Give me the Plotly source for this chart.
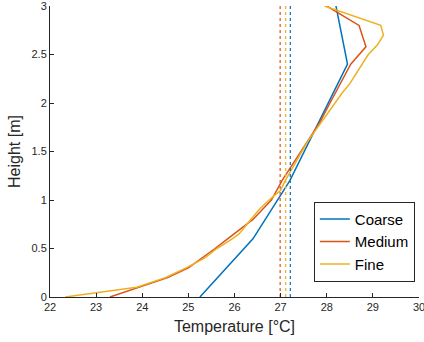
import plotly.graph_objects as go

# Data
coarse_h = [0.0, 0.6, 1.2, 1.8, 2.4, 3.0]
coarse_t = [25.25, 26.4, 27.2, 27.83, 28.45, 28.2]

medium_h = [0.0, 0.1, 0.2, 0.3, 0.4, 0.5, 0.6, 0.7, 0.8, 0.9, 1.0, 1.2, 1.4, 1.6, 1.8, 2.0, 2.2, 2.4, 2.58, 2.8, 3.0]
medium_t = [23.3, 23.95, 24.55, 25.0, 25.3, 25.58, 25.85, 26.12, 26.4, 26.6, 26.8, 27.03, 27.3, 27.58, 27.85, 28.07, 28.3, 28.52, 28.85, 28.7, 28.0]

fine_h = [0.0, 0.1, 0.2, 0.3, 0.4, 0.5, 0.6, 0.65, 0.75, 0.8, 0.9, 1.0, 1.1, 1.2, 1.3, 1.4, 1.5, 1.6, 1.7, 1.8, 1.9, 2.0, 2.1, 2.2, 2.3, 2.4, 2.5, 2.6, 2.7, 2.8, 3.0]
fine_t = [22.33, 23.88, 24.5, 24.95, 25.35, 25.62, 25.95, 26.1, 26.27, 26.35, 26.53, 26.75, 27.0, 27.1, 27.22, 27.33, 27.45, 27.58, 27.73, 27.88, 28.03, 28.18, 28.33, 28.5, 28.63, 28.76, 28.9, 29.1, 29.23, 29.17, 27.95]

series_names = ["Coarse", "Medium", "Fine"]
series_colors = ["#0072BD", "#D95319", "#EDB120"]
mean_temps = [27.21, 26.99, 27.11]
height_range = [0, 3]

x_ticks = [22, 23, 24, 25, 26, 27, 28, 29, 30]
y_ticks = [0, 0.5, 1, 1.5, 2, 2.5, 3]
y_ticklabels = ["0", "0.5", "1", "1.5", "2", "2.5", "3"]

fig = go.Figure()
for name, color, t, h in zip(series_names, series_colors,
                             [coarse_t, medium_t, fine_t],
                             [coarse_h, medium_h, fine_h]):
    fig.add_trace(go.Scatter(x=t, y=h, mode="lines", name=name,
                             line=dict(color=color, width=1.5)))

for color, m in zip(series_colors, mean_temps):
    fig.add_trace(go.Scatter(x=[m, m], y=height_range, mode="lines",
                             showlegend=False,
                             line=dict(color=color, width=1.2, dash="3px,3px")))

axis_color = "#262626"
font_family = "Liberation Sans, Arial, sans-serif"

fig.update_layout(
    width=424, height=342,
    margin=dict(l=50, r=5, t=6, b=45),
    paper_bgcolor="white", plot_bgcolor="white",
    font=dict(family=font_family, color=axis_color, size=11),
    showlegend=True,
    legend=dict(x=0.715, y=0.19, xanchor="left", yanchor="middle",
                bordercolor=axis_color, borderwidth=1, bgcolor="white",
                font=dict(size=15, color="#000000"),
                tracegroupgap=0, itemwidth=30),
    xaxis=dict(range=[22, 30], tickvals=x_ticks, ticks="inside", ticklen=4,
               tickcolor=axis_color, showline=True, linecolor=axis_color,
               linewidth=1, showgrid=False, zeroline=False,
               ticklabeloverflow="allow", automargin=False,
               title=dict(text="Temperature [°C]", font=dict(size=16), standoff=8),
               tickfont=dict(size=11)),
    yaxis=dict(range=[0, 3], tickvals=y_ticks, ticktext=y_ticklabels,
               ticks="inside", ticklen=4,
               tickcolor=axis_color, showline=True, linecolor=axis_color,
               linewidth=1, showgrid=False, zeroline=False,
               ticklabeloverflow="allow", automargin=False,
               title=dict(text="Height [m]", font=dict(size=16), standoff=6),
               tickfont=dict(size=11)),
)

fig.write_html("out.html")
